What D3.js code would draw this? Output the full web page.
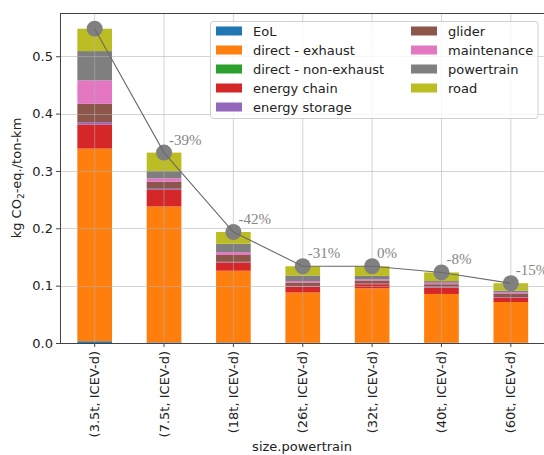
<!DOCTYPE html>
<html>
<head>
<meta charset="utf-8">
<script src="https://cdn.jsdelivr.net/npm/d3@7"></script>
<style>
  html, body { margin: 0; padding: 0; background: #fff; }
  svg { display: block; font-family: "DejaVu Sans", sans-serif; }
</style>
</head>
<body>
<svg id="chart" width="544" height="455"></svg>
<script>
// Vehicle categories (size, powertrain)
const categories = ["(3.5t, ICEV-d)", "(7.5t, ICEV-d)", "(18t, ICEV-d)", "(26t, ICEV-d)",
                    "(32t, ICEV-d)", "(40t, ICEV-d)", "(60t, ICEV-d)"];

// Impact contributions per category, kg CO2-eq./ton-km
const eol          = [0.003, 0.001, 0.001, 0.0005, 0.0005, 0.0005, 0.0005];
const exhaust      = [0.336, 0.237, 0.125, 0.0875, 0.095, 0.085, 0.071];
const nonExhaust   = [0.0, 0.0, 0.0, 0.0, 0.0, 0.0, 0.0];
const energyChain  = [0.042, 0.029, 0.0145, 0.0105, 0.007, 0.011, 0.0075];
const energyStore  = [0.004, 0.002, 0.001, 0.001, 0.001, 0.001, 0.001];
const glider       = [0.032, 0.012, 0.012, 0.006, 0.0055, 0.005, 0.0055];
const maintenance  = [0.041, 0.006, 0.005, 0.0025, 0.002, 0.0025, 0.0025];
const powertrain   = [0.051, 0.013, 0.0145, 0.0097, 0.006, 0.003, 0.0035];
const road         = [0.039, 0.032, 0.0205, 0.0161, 0.0168, 0.015, 0.0127];

// Change relative to the previous category
const changeLabels = ["", "-39%", "-42%", "-31%", "0%", "-8%", "-15%"];

const yTicks = [0.0, 0.1, 0.2, 0.3, 0.4, 0.5];

const seriesNames  = ["EoL", "direct - exhaust", "direct - non-exhaust", "energy chain",
                      "energy storage", "glider", "maintenance", "powertrain", "road"];
const seriesValues = [eol, exhaust, nonExhaust, energyChain, energyStore,
                      glider, maintenance, powertrain, road];
const seriesColors = ["#1f77b4", "#ff7f0e", "#2ca02c", "#d62728", "#9467bd",
                      "#8c564b", "#e377c2", "#7f7f7f", "#bcbd22"];

const rows = categories.map((c, i) => {
  const r = { cat: c };
  seriesNames.forEach((s, k) => r[s] = seriesValues[k][i]);
  return r;
});
const totals = categories.map((c, i) => d3.sum(seriesValues, v => v[i]));

const svg = d3.select("#chart");
const W = 544, H = 455;
// plot frame; the right edge runs just past the window
const x0 = 60, x1 = 545.5;
const y0 = 343, y1 = 13;

const x = d3.scaleBand().domain(categories).range([x0, x1]).paddingInner(0.5).paddingOuter(0.25);
const yMax = d3.max(totals) * 1.05;
const y = d3.scaleLinear().domain([0, yMax]).range([y0, y1]);

const stacked = d3.stack().keys(seriesNames)(rows);

// Bars
const layers = svg.append("g").selectAll("g").data(stacked).join("g")
  .attr("fill", (d, i) => seriesColors[i]);
layers.selectAll("rect").data(d => d).join("rect")
  .attr("x", d => x(d.data.cat))
  .attr("width", x.bandwidth())
  .attr("y", d => y(d[1]))
  .attr("height", d => Math.max(0, y(d[0]) - y(d[1])));

// Grid lines (drawn above bars)
const grid = svg.append("g").attr("stroke", "#b0b0b0").attr("stroke-opacity", 0.55).attr("stroke-width", 1);
grid.selectAll(".gy").data(yTicks).join("line")
  .attr("x1", x0).attr("x2", x1)
  .attr("y1", d => Math.round(y(d)) + 0.5).attr("y2", d => Math.round(y(d)) + 0.5);
grid.selectAll(".gx").data(categories).join("line")
  .attr("x1", d => x(d) + x.bandwidth() / 2).attr("x2", d => x(d) + x.bandwidth() / 2)
  .attr("y1", y1).attr("y2", y0);

// Totals: markers, connecting line, change labels
const cx = d => x(d) + x.bandwidth() / 2;
svg.append("g").selectAll("circle").data(categories).join("circle")
  .attr("cx", d => cx(d)).attr("cy", (d, i) => y(totals[i]))
  .attr("r", 8).attr("fill", "#808080");
svg.append("path")
  .datum(categories)
  .attr("fill", "none").attr("stroke", "#6a6a6a").attr("stroke-width", 1.1)
  .attr("d", d3.line().x(d => cx(d)).y((d, i) => y(totals[i])));
svg.append("g").selectAll("text").data(categories).join("text")
  .attr("x", d => cx(d) + 5).attr("y", (d, i) => y(totals[i]) - 8)
  .attr("font-family", "'Liberation Serif', 'DejaVu Serif', serif")
  .attr("font-size", 15).attr("fill", "#858585")
  .text((d, i) => changeLabels[i]);

// Axes
const yAxis = d3.axisLeft(y).tickValues(yTicks).tickFormat(d3.format(".1f")).tickSizeOuter(0).tickSize(4);
const gy = svg.append("g").attr("transform", `translate(${x0},0)`).call(yAxis);
gy.select(".domain").remove();
gy.selectAll("line").attr("stroke", "#444");
gy.selectAll("text").attr("font-size", 13).attr("fill", "#222")
  .attr("font-family", "'DejaVu Sans', sans-serif").attr("x", -7);

const xAxis = d3.axisBottom(x).tickSizeOuter(0).tickSize(4);
const gx = svg.append("g").attr("transform", `translate(0,${y0})`).call(xAxis);
gx.select(".domain").remove();
gx.selectAll("line").attr("stroke", "#444");
gx.selectAll("text")
  .attr("font-size", 13).attr("fill", "#222").attr("font-family", "'DejaVu Sans', sans-serif")
  .attr("transform", "rotate(-90)")
  .attr("text-anchor", "end")
  .attr("x", -8).attr("y", 0).attr("dy", "0.35em");

// Spines
const spines = svg.append("g").attr("stroke", "#444").attr("stroke-width", 1).attr("fill", "none");
spines.append("line").attr("x1", x0 + 0.5).attr("x2", x0 + 0.5).attr("y1", y1).attr("y2", y0);
spines.append("line").attr("x1", x0).attr("x2", x1).attr("y1", y0 + 0.5).attr("y2", y0 + 0.5);
spines.append("line").attr("x1", x0).attr("x2", x1).attr("y1", y1 + 0.5).attr("y2", y1 + 0.5);
spines.append("line").attr("x1", x1 - 0.5).attr("x2", x1 - 0.5).attr("y1", y1).attr("y2", y0);

// Axis titles
const yTitle = svg.append("text")
  .attr("transform", `translate(21,${(y0 + y1) / 2}) rotate(-90)`)
  .attr("text-anchor", "middle").attr("font-size", 13).attr("fill", "#222");
yTitle.append("tspan").text("kg CO");
yTitle.append("tspan").text("2").attr("font-size", 9).attr("dy", 3);
yTitle.append("tspan").text("-eq./ton-km").attr("dy", -3);

svg.append("text")
  .attr("x", 302).attr("y", 451)
  .attr("text-anchor", "middle").attr("font-size", 13).attr("fill", "#222")
  .text("size.powertrain");

// Legend
const legend = svg.append("g");
legend.append("rect")
  .attr("x", 210.5).attr("y", 21.5).attr("width", 327.5).attr("height", 97).attr("rx", 3)
  .attr("fill", "#fff").attr("fill-opacity", 0.8).attr("stroke", "#d0d0d0");
const colX = [216, 411];
const perCol = 5;
const items = legend.selectAll("g.item").data(seriesNames).join("g")
  .attr("transform", (d, i) => `translate(${colX[Math.floor(i / perCol)]},${31 + (i % perCol) * 19})`);
items.append("rect").attr("x", 0).attr("y", -4.5).attr("width", 26).attr("height", 9)
  .attr("fill", (d, i) => seriesColors[i]);
items.append("text").attr("x", 37).attr("y", 0).attr("dy", "0.35em")
  .attr("font-size", 13).attr("fill", "#222").text(d => d);
</script>
</body>
</html>
